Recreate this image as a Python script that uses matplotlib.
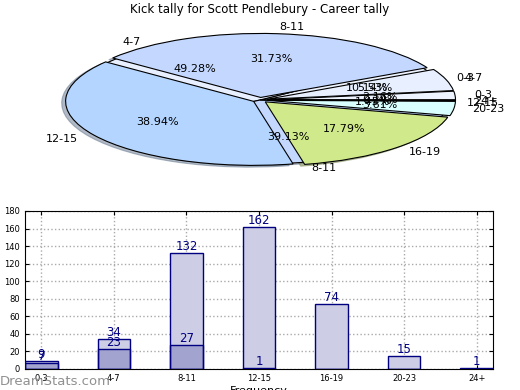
import numpy as np
import matplotlib.pyplot as plt

cats = ['0-3', '4-7', '8-11', '12-15', '16-19', '20-23', '24+']
career = [9, 23, 132, 162, 74, 15, 1]
other = [7, 34, 27, 1, 0, 0, 0]
pie_colors = ['#eef4ff', '#e8f0ff', '#c4d8ff', '#b3d5ff', '#d0e98a', '#d9ffff', '#f0f0f0']

fig = plt.figure(figsize=(5.2, 3.9), dpi=100)
fig.text(0.5, 0.975, 'Kick tally for Scott Pendlebury - Career tally',
         ha='center', va='center', fontsize=8.5)

# pie part: two pies on the same centre, the career one exploded on top
pax = fig.add_axes([0, (390 - 185) / 390, 1, 165 / 390])
keep = [i for i, v in enumerate(other) if v > 0]
shade = dict(ox=-0.015, oy=-0.02, shade=0.45)
w2, t2, a2 = pax.pie([other[i] for i in keep], labels=[cats[i] for i in keep],
                     colors=[pie_colors[i] for i in keep], autopct='%.2f%%',
                     startangle=0, shadow=shade,
                     wedgeprops=dict(edgecolor='black', linewidth=0.8),
                     textprops=dict(fontsize=8))
w1, t1, a1 = pax.pie(career, labels=cats, colors=pie_colors, autopct='%.2f%%',
                     startangle=0, explode=[0.04] * len(career), shadow=shade,
                     wedgeprops=dict(edgecolor='black', linewidth=0.8),
                     textprops=dict(fontsize=8))
pax.set_aspect('auto')
pax.set_xlim(-260 / 188, 260 / 188)
pax.set_ylim(-85 / 64, 80 / 64)
pax.axis('off')

# bar part
bax = fig.add_axes([25 / 520, 21 / 390, 468 / 520, 158 / 390])
x = np.arange(len(cats))
both = np.minimum(career, other)
bax.bar(x, career, width=0.45, color='#cdcde5', edgecolor='none', zorder=2)
bax.bar(x, other, width=0.45, color='#cdcde5', edgecolor='none', zorder=2)
bax.bar(x, both, width=0.45, color='#a3a3cf', edgecolor='none', zorder=2)
bax.bar(x, career, width=0.45, fill=False, edgecolor='#000080', linewidth=1, zorder=3)
bax.bar(x, other, width=0.45, fill=False, edgecolor='#000080', linewidth=1, zorder=3)
for xi, v in zip(x, career):
    bax.text(xi, v, str(v), ha='center', va='bottom', fontsize=8.5, color='#000080')
for xi, v in zip(x, other):
    if v > 0:
        bax.text(xi, v, str(v), ha='center', va='bottom', fontsize=8.5, color='#000080')
bax.set_xlim(-0.225, len(cats) - 1 + 0.225)
bax.set_ylim(0, 180)
bax.set_yticks(range(0, 181, 20))
bax.set_xticks(x)
bax.set_xticklabels(cats)
bax.tick_params(labelsize=6, direction='in', top=True, right=True, length=3)
bax.grid(True, linestyle=':', color='#aaaaaa', linewidth=1, zorder=4)
bax.set_ylabel('Stat Intervals', fontsize=8, labelpad=2)
bax.set_xlabel('Frequency', fontsize=8, labelpad=2)

fig.text(0.0, 0.022, 'DreamStats.com', fontsize=9.5, color='#909090',
         ha='left', va='center')

fig.savefig('out.png', dpi=100)
